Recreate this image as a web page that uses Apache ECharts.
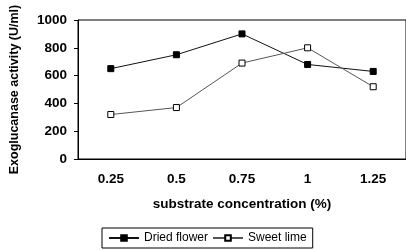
<!DOCTYPE html>
<html>
<head>
<meta charset="utf-8">
<script src="https://cdn.jsdelivr.net/npm/echarts@6/dist/echarts.min.js"></script>
<style>
  html, body { margin: 0; padding: 0; background: #fff; }
  #chart { width: 406px; height: 250px; }
</style>
</head>
<body>
<div id="chart"></div>
<script>
const categories = ['0.25', '0.5', '0.75', '1', '1.25'];
const driedFlower = [650, 750, 900, 680, 630];
const sweetLime = [320, 370, 690, 800, 520];

const font = 'Liberation Sans, Arial, sans-serif';

const chart = echarts.init(document.getElementById('chart'));
chart.setOption({
    animation: false,
    grid: {
        left: 73, right: -2, top: 20, bottom: 91,
        show: true, borderColor: '#000', borderWidth: 1
    },
    legend: {
        left: 102, top: 228,
        itemWidth: 30, itemHeight: 7, itemGap: 4,
        padding: [4, 6, 4, 6],
        borderColor: '#000', borderWidth: 1, borderRadius: 0,
        textStyle: { fontFamily: font, fontSize: 12, color: '#000' },
        data: ['Dried flower', 'Sweet lime']
    },
    xAxis: {
        type: 'category',
        data: categories,
        name: 'substrate concentration (%)',
        nameLocation: 'middle',
        nameGap: 38,
        nameTextStyle: { fontFamily: font, fontSize: 13.5, fontWeight: 'bold', color: '#000' },
        axisLine: { lineStyle: { color: '#000', width: 1 } },
        axisTick: { length: 4, lineStyle: { color: '#000' } },
        axisLabel: { fontFamily: font, fontSize: 13.5, fontWeight: 'bold', color: '#000', margin: 13 }
    },
    yAxis: {
        type: 'value',
        min: 0, max: 1000, interval: 200,
        name: 'Exoglucanase activity (U/ml)',
        nameLocation: 'middle',
        nameGap: 57,
        nameTextStyle: { fontFamily: font, fontSize: 12.5, fontWeight: 'bold', color: '#000' },
        axisLine: { show: true, lineStyle: { color: '#000', width: 1 } },
        axisTick: { show: true, length: 4, lineStyle: { color: '#000' } },
        splitLine: { show: false },
        axisLabel: {
            fontFamily: font, fontSize: 13.5, fontWeight: 'bold', color: '#000', margin: 11,
            formatter: v => String(v)
        }
    },
    series: [
        {
            name: 'Dried flower',
            type: 'line',
            data: driedFlower,
            symbol: 'rect',
            symbolSize: 6,
            lineStyle: { color: '#111', width: 1 },
            itemStyle: { color: '#000', borderColor: '#000', borderWidth: 1 }
        },
        {
            name: 'Sweet lime',
            type: 'line',
            data: sweetLime,
            symbol: 'rect',
            symbolSize: 6,
            lineStyle: { color: '#555', width: 1 },
            itemStyle: { color: '#fff', borderColor: '#000', borderWidth: 1 }
        }
    ]
});
</script>
</body>
</html>
